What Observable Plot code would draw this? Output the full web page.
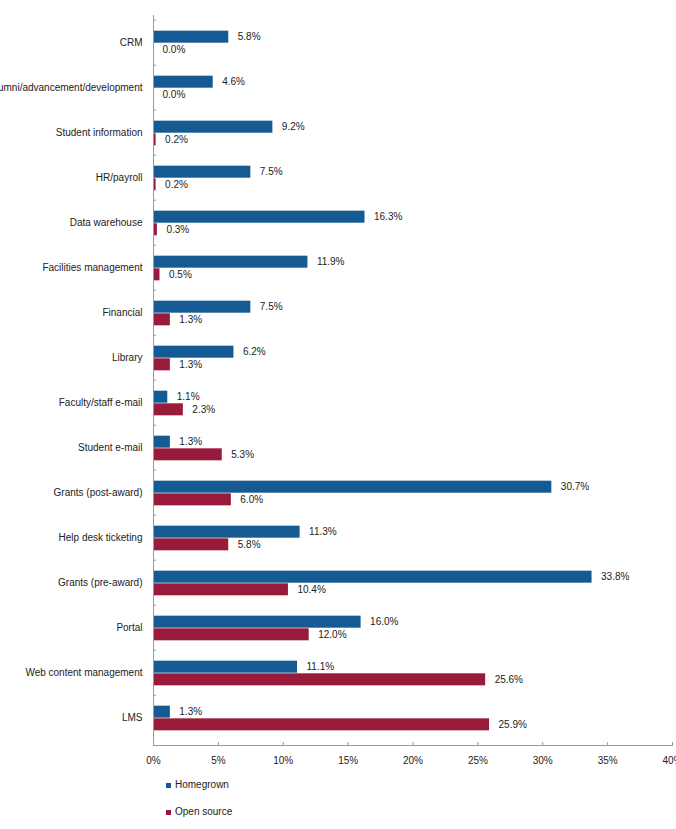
<!DOCTYPE html>
<html>
<head>
<meta charset="utf-8">
<script src="https://cdn.jsdelivr.net/npm/d3@7"></script>
<script src="https://cdn.jsdelivr.net/npm/@observablehq/plot@0.6"></script>
<style>
  body { margin: 0; background: #fff; font-family: "Liberation Sans", Arial, sans-serif; }
  #chart svg { display: block; overflow: visible; }
  .legend { padding-left: 166px; font-size: 10px; color: #222; }
  .legend .row { height: 20px; line-height: 20px; margin-bottom: 7px; display: flex; align-items: center; }
  .legend .sw { width: 5px; height: 5px; margin-right: 4px; }
</style>
</head>
<body>
<div id="chart"></div>
<div class="legend" id="legend"></div>
<script>
// Systems by sourcing approach, share of institutions (%)
const categories = [
  "CRM",
  "Alumni/advancement/development",
  "Student information",
  "HR/payroll",
  "Data warehouse",
  "Facilities management",
  "Financial",
  "Library",
  "Faculty/staff e-mail",
  "Student e-mail",
  "Grants (post-award)",
  "Help desk ticketing",
  "Grants (pre-award)",
  "Portal",
  "Web content management",
  "LMS"
];
const homegrown  = [5.8, 4.6, 9.2, 7.5, 16.3, 11.9, 7.5, 6.2, 1.1, 1.3, 30.7, 11.3, 33.8, 16.0, 11.1, 1.3];
const openSource = [0.0, 0.0, 0.2, 0.2, 0.3, 0.5, 1.3, 1.3, 2.3, 5.3, 6.0, 5.8, 10.4, 12.0, 25.6, 25.9];
const seriesNames = ["Homegrown", "Open source"];
const seriesColors = ["#155a92", "#991b3c"];
const xTicks = [0, 5, 10, 15, 20, 25, 30, 35, 40];

const rows = categories.flatMap((c, i) => [
  {category: c, series: seriesNames[0], value: homegrown[i]},
  {category: c, series: seriesNames[1], value: openSource[i]}
]);
const hg = rows.filter(d => d.series === seriesNames[0]);
const os = rows.filter(d => d.series === seriesNames[1]);

const width = 676, height = 775;
const marginTop = 15, marginBottom = 30, marginLeft = 153, marginRight = 4;
const step = (height - marginTop - marginBottom) / categories.length;
const barH = step * 0.277;
const gap = step * 0.234;           // space above the first bar of each group
const fmt = v => d3.format(".1f")(v) + "%";
const textColor = "#222";
const axisColor = "#9a9a9a";

const chart = Plot.plot({
  width, height, marginTop, marginBottom, marginLeft, marginRight,
  style: {fontFamily: "'Liberation Sans', Arial, sans-serif", fontSize: "10px", color: textColor},
  x: {domain: [0, 40], ticks: xTicks, tickFormat: d => d + "%"},
  y: {domain: categories, padding: 0, align: 0.5},
  marks: [
    Plot.barX(hg, {x: "value", y: "category", fill: seriesColors[0],
      insetTop: gap, insetBottom: step - gap - barH}),
    Plot.barX(os, {x: "value", y: "category", fill: seriesColors[1],
      insetTop: gap + barH, insetBottom: step - gap - 2 * barH}),
    Plot.text(hg, {x: "value", y: "category", text: d => fmt(d.value), textAnchor: "start",
      dx: 9, dy: -6, fill: textColor}),
    Plot.text(os, {x: "value", y: "category", text: d => fmt(d.value), textAnchor: "start",
      dx: 9, dy: 7, fill: textColor}),
    Plot.frame({anchor: "left", stroke: axisColor}),
    Plot.frame({anchor: "bottom", stroke: axisColor}),
    Plot.axisY({tickSize: 0, tickPadding: 11, fill: textColor, label: null}),
    Plot.axisY({tickSize: -3, text: null, dy: -step / 2, stroke: axisColor, label: null}),
    Plot.axisX(xTicks, {tickSize: 0, tickPadding: 11, fill: textColor, label: null, tickFormat: d => d + "%"}),
    Plot.axisX(xTicks, {tickSize: -3, text: null, stroke: axisColor, label: null})
  ]
});
document.getElementById("chart").appendChild(chart);

const legend = document.getElementById("legend");
seriesNames.forEach((name, i) => {
  const row = document.createElement("div");
  row.className = "row";
  const sw = document.createElement("span");
  sw.className = "sw";
  sw.style.background = seriesColors[i];
  const label = document.createElement("span");
  label.textContent = name;
  row.appendChild(sw);
  row.appendChild(label);
  legend.appendChild(row);
});
</script>
</body>
</html>
